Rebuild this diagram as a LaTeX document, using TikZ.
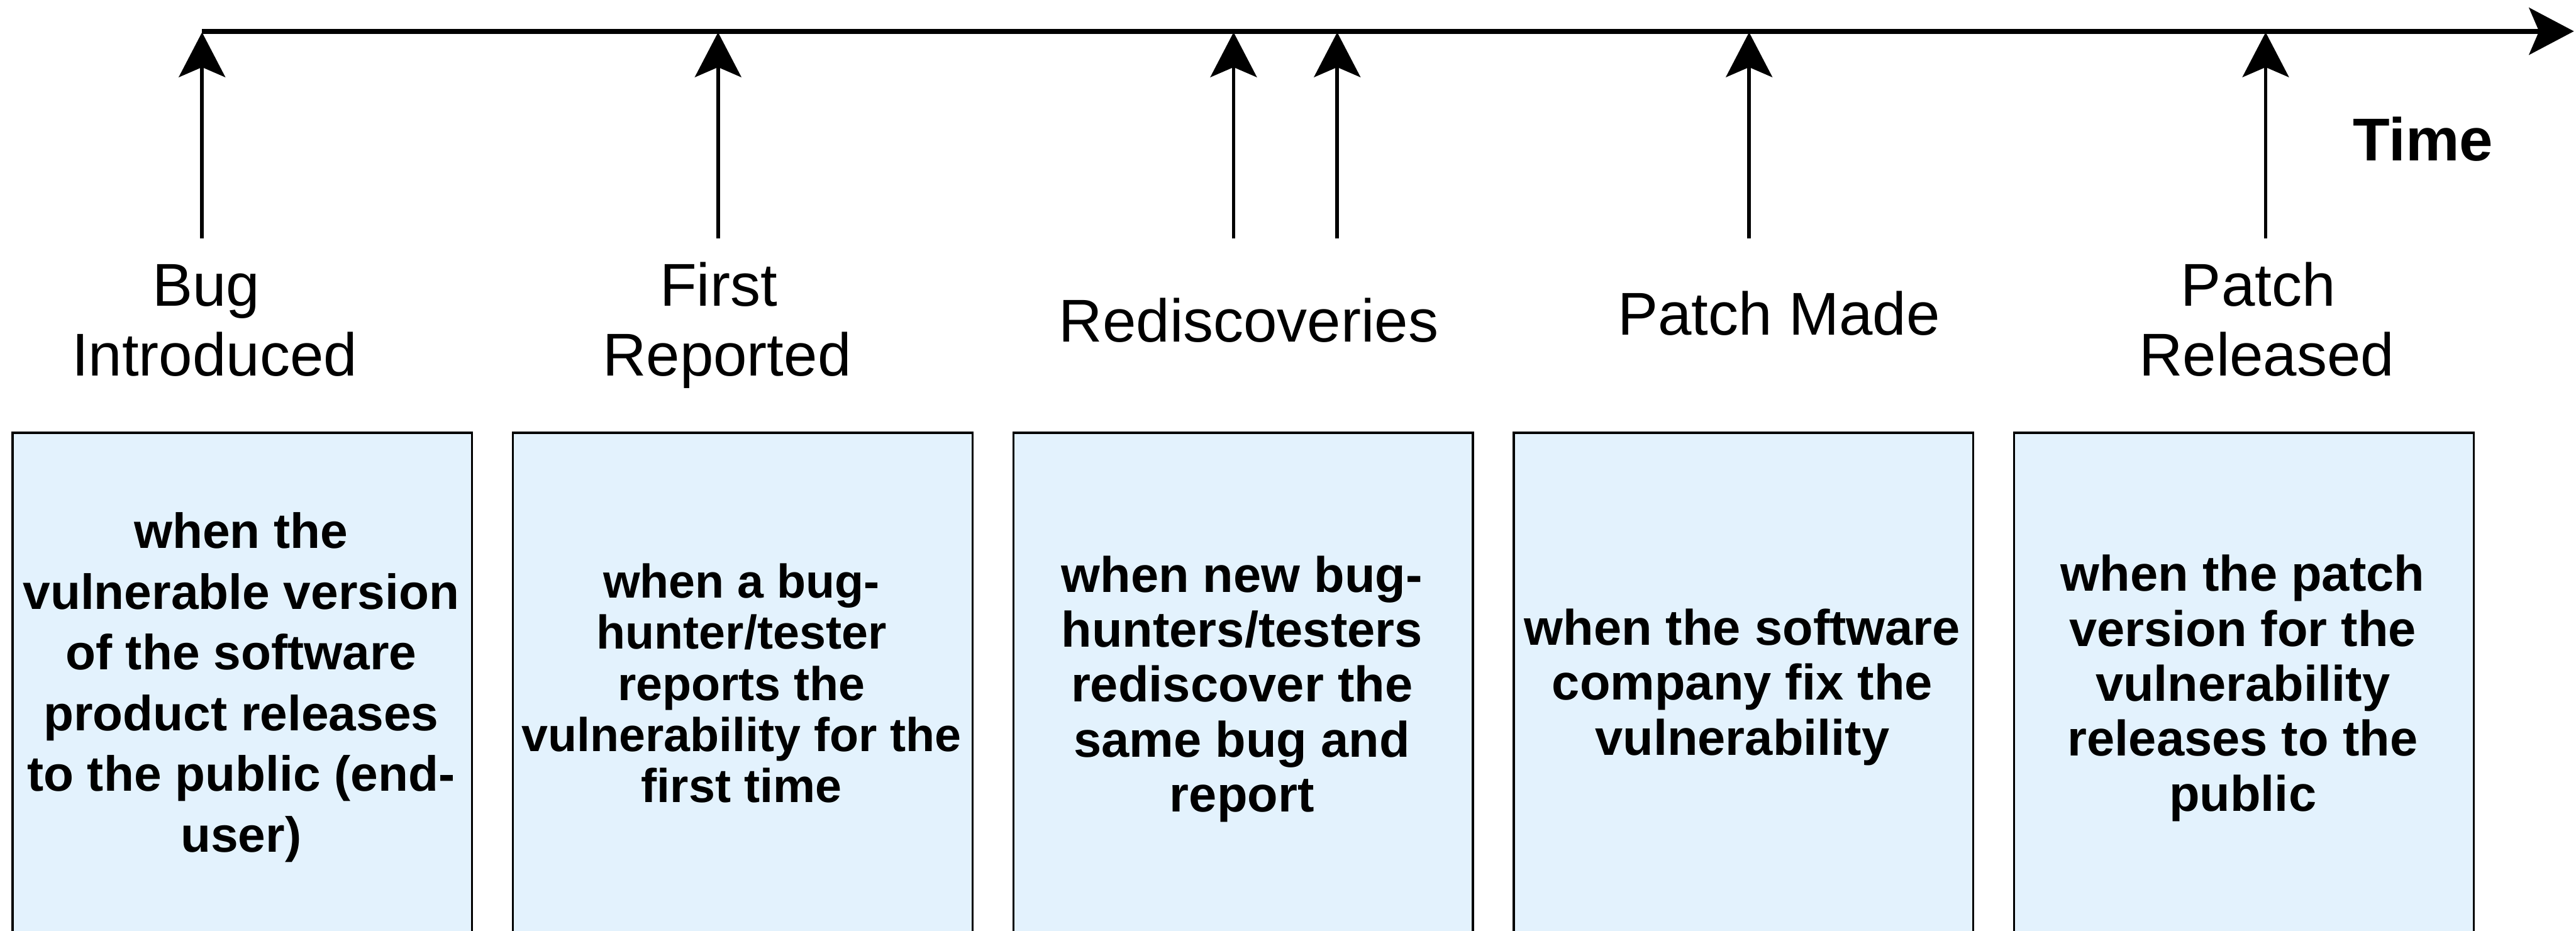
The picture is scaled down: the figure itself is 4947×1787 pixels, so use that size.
\documentclass[tikz,border=0pt]{standalone}
\usepackage{fontspec}
\setmainfont{Liberation Sans}
\usetikzlibrary{arrows.meta}
\definecolor{boxfill}{HTML}{E3F2FD}
\begin{document}
\begin{tikzpicture}[x=0.01cm,y=-0.01cm,
  evarrow/.style={line width=2pt, -{Stealth[length=0.86cm,width=0.89cm,inset=0.19cm]}},
  axisline/.style={line width=2.8pt, -{Stealth[length=0.86cm,width=0.9cm,inset=0.19cm]}},
  lbl/.style={font=\fontsize{33}{38.4}\selectfont, align=center, inner sep=0pt, anchor=base},
  tbox/.style={draw=black, line width=1.2pt, fill=boxfill, rectangle, minimum width=8.82cm, minimum height=10cm, anchor=north west, inner sep=0pt},
  ttext/.style={align=center, inner sep=0pt, anchor=base},
  fbig/.style={font=\bfseries\fontsize{27.3}{30}\selectfont},
  fone/.style={font=\bfseries\fontsize{26.97}{33.18}\selectfont},
  ftwo/.style={font=\bfseries\fontsize{25.9}{27.94}\selectfont}]
\useasboundingbox (0,0) rectangle (4947,1787);
\clip (0,0) rectangle (4947,1787);

% time axis
\coordinate (ax0) at (388,60);
\coordinate (ax1) at (4943,60);
\draw[axisline] (ax0) -- (ax1);
\node[font=\bfseries\fontsize{33}{38.4}\selectfont, inner sep=0pt, anchor=base] (time) at (4653,308) {Time};

% event arrows
\foreach \n/\x in {e1/388, e2/1379, e3/2369, e4/2568, e5/3359, e6/4351}{
  \coordinate (\n s) at (\x,458);
  \coordinate (\n t) at (\x,62);
}
\draw[evarrow] (e1s) -- (e1t);
\draw[evarrow] (e2s) -- (e2t);
\draw[evarrow] (e3s) -- (e3t);
\draw[evarrow] (e4s) -- (e4t);
\draw[evarrow] (e5s) -- (e5t);
\draw[evarrow] (e6s) -- (e6t);

% event labels (anchor=base is the baseline of the last line)
\node[lbl] (l1) at (412,722) {Bug\hspace*{0.28em}\\Introduced};
\node[lbl] (l2) at (1396,722) {First\hspace*{0.28em}\\Reported};
\node[lbl] (l3) at (2398,656) {Rediscoveries};
\node[lbl] (l4) at (3416,643) {Patch Made};
\node[lbl] (l5) at (4353,722) {Patch\hspace*{0.28em}\\Released};

% description boxes
\node[tbox] (b1) at (22,829) {};
\node[tbox] (b2) at (983,829) {};
\node[tbox] (b3) at (1944,829) {};
\node[tbox] (b4) at (2905,829) {};
\node[tbox] (b5) at (3866,829) {};

\node[ttext, fone] (t1) at (463,1636) {when the\\vulnerable version\\of the software\\product releases\\to the public (end-\\user)};
\node[ttext, ftwo] (t2) at (1424,1541) {when a bug-\\hunter/tester\\reports the\\vulnerability for the\\first time};
\node[ttext, fbig] (t3) at (2385,1558.6) {when new bug-\\hunters/testers\\rediscover the\\same bug and\\report};
\node[ttext, fbig] (t4) at (3346,1449.5) {when the software\\company fix the\\vulnerability};
\node[ttext, fbig] (t5) at (4307,1557) {when the patch\\version for the\\vulnerability\\releases to the\\public};
\end{tikzpicture}
\end{document}
